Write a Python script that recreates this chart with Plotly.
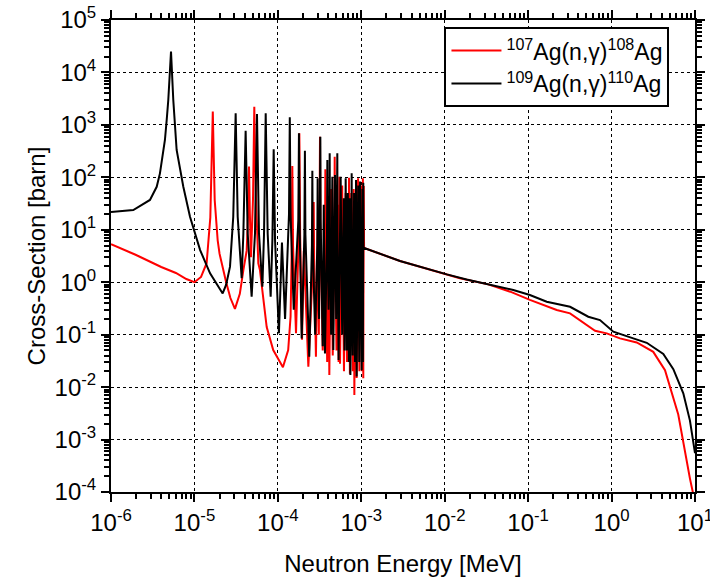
import plotly.graph_objects as go

# ---------------- data ----------------
# 107Ag(n,gamma)108Ag  (red)
ag107_energy = [
    1.0e-6, 2.0e-6, 4.0e-6, 6.0e-6, 8.0e-6, 1.0e-5, 1.2e-5, 1.4e-5, 1.55e-5, 1.62e-5,
    1.66e-5, 1.70e-5, 1.75e-5, 1.9e-5, 2.0e-5, 2.4e-5, 2.7e-5, 3.06e-5, 3.5e-5, 3.86e-5,
    4.23e-5, 4.4e-5, 4.51e-5, 4.62e-5, 4.76e-5, 5.04e-5, 5.15e-5, 5.22e-5, 5.3e-5, 5.47e-5,
    5.83e-5, 6.1e-5, 7.35e-5, 8.8e-5, 1.15e-4, 1.33e-4, 1.42e-4, 1.47e-4, 1.49e-4, 1.52e-4,
    1.65e-4, 1.78e-4, 1.81e-4, 1.85e-4, 1.95e-4, 2.05e-4, 2.32e-4, 2.66e-4, 2.69e-4, 2.72e-4,
    2.86e-4, 3.0e-4, 3.1e-4, 3.17e-4, 3.2e-4, 3.23e-4, 3.45e-4, 3.68e-4, 3.71e-4, 3.74e-4,
    3.9e-4, 4.0e-4, 4.14e-4, 4.35e-4, 4.55e-4, 4.76e-4, 4.8e-4, 4.84e-4, 5.05e-4, 5.25e-4,
    5.35e-4, 5.46e-4, 5.56e-4, 5.9e-4, 6.2e-4, 6.5e-4, 6.75e-4, 7.1e-4, 7.13e-4, 7.16e-4,
    7.3e-4, 7.6e-4, 7.9e-4, 8.1e-4, 8.26e-4, 8.5e-4, 8.8e-4, 9.12e-4, 9.15e-4, 9.18e-4,
    9.5e-4, 9.9e-4, 1.03e-3, 1.045e-3, 1.057e-3, 1.07e-3, 1.08e-3, 2.91e-3, 7.3e-3, 1.52e-2,
    3.33e-2, 6.1e-2, 0.105, 0.22, 0.318, 0.634, 0.875, 1.26, 2.0, 3.16,
    4.37, 6.3, 8.7, 9.5,
]
ag107_xs = [
    5.3, 3.3, 1.95, 1.5, 1.15, 1.0, 1.26, 2.3, 17, 300,
    1790, 300, 37, 6.3, 3.5, 1.0, 0.5, 0.31, 0.6, 1.7,
    4.0, 20, 160, 20, 3.0, 40, 400, 2220, 400, 40,
    2.3, 1.7, 0.14, 0.051, 0.024, 0.051, 0.22, 5, 164, 5,
    0.106, 8, 690, 8, 0.08, 4, 0.0245, 3, 34, 3,
    0.038, 10, 0.1, 12, 596, 12, 0.05, 6, 142, 6,
    0.03, 40, 0.017, 60, 0.04, 8, 247, 8, 0.05, 30,
    0.03, 103, 0.028, 70, 0.02, 50, 0.03, 5, 98, 5,
    0.018, 50, 0.02, 60, 0.0071, 40, 0.015, 5, 96, 5,
    0.02, 70, 0.02, 96, 0.0147, 68, 4.5, 2.54, 1.66, 1.19,
    0.91, 0.66, 0.46, 0.295, 0.255, 0.119, 0.106, 0.085, 0.071, 0.047,
    0.021, 0.003, 1.8e-4, 9.3e-5,
]

# 109Ag(n,gamma)110Ag  (black)
ag109_energy = [
    1.0e-6, 1.85e-6, 2.93e-6, 3.53e-6, 3.86e-6, 4.06e-6, 4.43e-6, 4.65e-6, 4.86e-6, 5.24e-6,
    5.58e-6, 6.12e-6, 7.36e-6, 8.85e-6, 1.17e-5, 1.54e-5, 2.18e-5, 2.4e-5, 2.67e-5, 2.92e-5,
    3.12e-5, 3.3e-5, 3.68e-5, 3.86e-5, 4.11e-5, 4.35e-5, 4.85e-5, 5.32e-5, 5.62e-5, 5.94e-5,
    6.52e-5, 6.83e-5, 7.15e-5, 7.55e-5, 8.2e-5, 8.6e-5, 8.91e-5, 9.25e-5, 1.03e-4, 1.12e-4,
    1.22e-4, 1.36e-4, 1.39e-4, 1.42e-4, 1.55e-4, 1.76e-4, 1.79e-4, 1.82e-4, 1.93e-4, 2.08e-4,
    2.11e-4, 2.14e-4, 2.38e-4, 2.56e-4, 2.59e-4, 2.62e-4, 2.8e-4, 2.97e-4, 3.0e-4, 3.03e-4,
    3.12e-4, 3.2e-4, 3.23e-4, 3.26e-4, 3.45e-4, 3.55e-4, 3.67e-4, 3.88e-4, 3.92e-4, 3.96e-4,
    4.05e-4, 4.15e-4, 4.18e-4, 4.21e-4, 4.35e-4, 4.5e-4, 4.62e-4, 4.84e-4, 5.0e-4, 5.13e-4,
    5.16e-4, 5.19e-4, 5.35e-4, 5.66e-4, 5.9e-4, 6.15e-4, 6.3e-4, 6.5e-4, 6.7e-4, 6.9e-4,
    7.1e-4, 7.25e-4, 7.4e-4, 7.64e-4, 7.67e-4, 7.7e-4, 7.9e-4, 8.2e-4, 8.4e-4, 8.65e-4,
    8.8e-4, 9.2e-4, 9.45e-4, 9.67e-4, 1.01e-3, 1.035e-3, 1.045e-3, 1.057e-3, 1.062e-3, 2.91e-3,
    7.3e-3, 1.06e-2, 1.83e-2, 3.33e-2, 6.64e-2, 0.105, 0.167, 0.318, 0.526, 0.726,
    1.05, 1.82, 2.64, 4.17, 5.5, 7.24, 8.7, 10.0,
]
ag109_xs = [
    21.8, 23.8, 37, 66, 119, 214, 515, 1230, 2980, 24900,
    2980, 332, 66, 17.7, 4.1, 1.48, 0.61, 0.9, 1.98, 17.7,
    1660, 17.7, 1.19, 8.5, 774, 8.5, 0.53, 8.5, 1610, 8.5,
    0.82, 8.5, 1660, 8.5, 0.53, 6.4, 342, 6.4, 0.106, 5.7,
    0.2, 20, 1400, 20, 0.3, 15, 690, 15, 0.085, 8,
    322, 8, 0.038, 5, 134, 5, 0.1, 5, 96, 4,
    0.2, 15, 596, 15, 0.06, 30, 0.044, 8, 214, 6,
    0.3, 10, 287, 10, 0.1, 103, 0.051, 111, 0.2, 10,
    287, 10, 0.033, 103, 0.1, 40, 0.05, 96, 0.05, 50,
    0.03, 40, 0.017, 5, 119, 5, 0.04, 50, 0.03, 89,
    0.016, 70, 0.03, 83, 0.021, 60, 0.03, 79, 4.55, 2.54,
    1.66, 1.41, 1.13, 0.91, 0.71, 0.57, 0.425, 0.34, 0.22, 0.19,
    0.114, 0.085, 0.070, 0.043, 0.022, 0.0076, 0.0023, 5.5e-4,
]

x_tick_vals = [1e-6, 1e-5, 1e-4, 1e-3, 1e-2, 1e-1, 1e0, 1e1]
x_tick_text = ["10<sup>-6</sup>", "10<sup>-5</sup>", "10<sup>-4</sup>", "10<sup>-3</sup>",
               "10<sup>-2</sup>", "10<sup>-1</sup>", "10<sup>0</sup>", "10<sup>1</sup>"]
y_tick_vals = [1e-4, 1e-3, 1e-2, 1e-1, 1e0, 1e1, 1e2, 1e3, 1e4, 1e5]
y_tick_text = ["10<sup>-4</sup>", "10<sup>-3</sup>", "10<sup>-2</sup>", "10<sup>-1</sup>",
               "10<sup>0</sup>", "10<sup>1</sup>", "10<sup>2</sup>", "10<sup>3</sup>",
               "10<sup>4</sup>", "10<sup>5</sup>"]

series_names = ["<sup>107</sup>Ag(n,\u03b3)<sup>108</sup>Ag",
                "<sup>109</sup>Ag(n,\u03b3)<sup>110</sup>Ag"]

# ---------------- figure ----------------
FONT = "Liberation Sans, Arial, sans-serif"

fig = go.Figure()
fig.add_trace(go.Scatter(x=ag107_energy, y=ag107_xs, mode="lines",
                         line=dict(color="#ff0000", width=2), name=series_names[0]))
fig.add_trace(go.Scatter(x=ag109_energy, y=ag109_xs, mode="lines",
                         line=dict(color="#000000", width=2), name=series_names[1]))

axis_common = dict(
    type="log", ticks="outside", ticklen=8, tickwidth=2, tickcolor="black",
    showline=True, linewidth=2, linecolor="black", mirror="ticks",
    showgrid=True, gridcolor="black", gridwidth=1, griddash="dot",
    tickfont=dict(size=24, color="black", family=FONT),
    ticklabeloverflow="allow",
    minor=dict(ticks="outside", ticklen=5, tickwidth=1.5, tickcolor="black",
               dtick="D1", showgrid=False),
    zeroline=False,
)

fig.update_xaxes(range=[-6, 1], tickmode="array", tickvals=x_tick_vals, ticktext=x_tick_text,
                 title=dict(text="Neutron Energy [MeV]", font=dict(size=24, color="black", family=FONT),
                            standoff=20),
                 **axis_common)
fig.update_yaxes(range=[-4, 5], tickmode="array", tickvals=y_tick_vals, ticktext=y_tick_text,
                 title=dict(text="Cross-Section [barn]", font=dict(size=24, color="black", family=FONT),
                            standoff=2),
                 **axis_common)

fig.update_layout(
    width=710, height=584,
    margin=dict(l=111, r=15, t=20, b=92, autoexpand=False),
    paper_bgcolor="white", plot_bgcolor="white",
    font=dict(family=FONT, color="black"),
    showlegend=True,
    legend=dict(x=0.571, y=0.985, xanchor="left", yanchor="top",
                bgcolor="white", bordercolor="black", borderwidth=2,
                font=dict(size=23, color="black", family=FONT),
                itemwidth=50, tracegroupgap=0),
)

# remove the default page margin so the 710x584 figure fills the window exactly
fig.write_html("out.html", config={"displayModeBar": False},
               post_script="document.body.style.margin='0';")
